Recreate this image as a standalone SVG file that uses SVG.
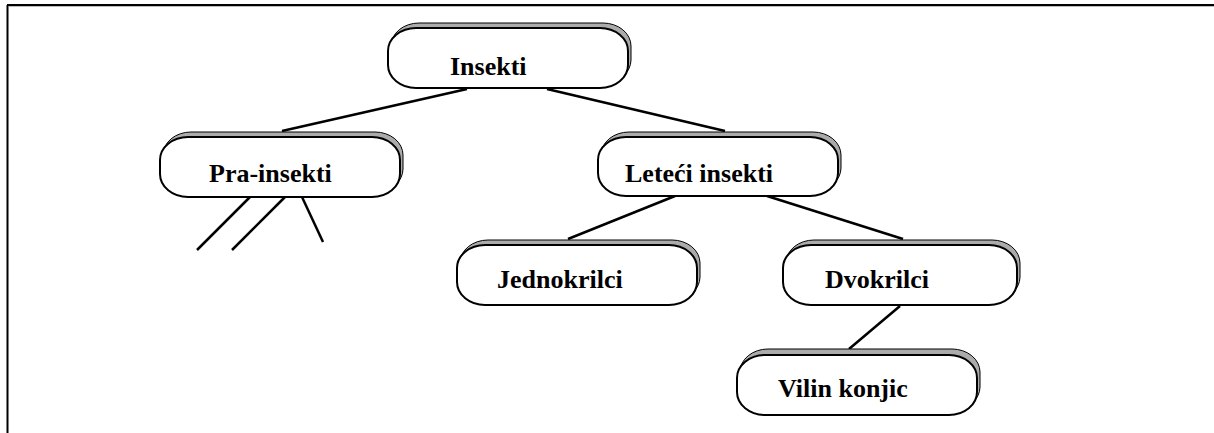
<svg xmlns="http://www.w3.org/2000/svg" width="1214" height="433" viewBox="0 0 1214 433">
<style>
.sh{fill:#ababab;stroke:#000;stroke-width:1}
.bx{fill:#fff;stroke:#000;stroke-width:2}
.t{font-family:"Liberation Serif","Times New Roman",serif;font-weight:bold;font-size:26px;fill:#000}
.c line{stroke:#000;stroke-width:2.5;stroke-linecap:butt}
</style>
<rect width="1214" height="433" fill="#fff"/>
<g id="frame">
<line x1="7.5" y1="433" x2="7.5" y2="5" stroke="#000" stroke-width="2"/>
<line x1="7" y1="5" x2="1214" y2="5" stroke="#000" stroke-width="2"/>
<line x1="9" y1="6.5" x2="1214" y2="6.5" stroke="#bbb" stroke-width="1"/>
</g>
<g class="c" id="connectors">
<line x1="467" y1="89" x2="282" y2="131"/>
<line x1="547" y1="89" x2="725" y2="131"/>
<line x1="675" y1="196" x2="568" y2="239"/>
<line x1="767" y1="196" x2="903" y2="239"/>
<line x1="900" y1="306" x2="849" y2="349"/>
<line x1="250" y1="197" x2="197" y2="250"/>
<line x1="285" y1="197" x2="232" y2="250"/>
<line x1="302" y1="197" x2="323" y2="242"/>
</g>
<g id="n-insekti">
<rect class="sh" x="391" y="23" width="240" height="60" rx="28" ry="23"/>
<rect class="bx" x="388" y="28" width="240" height="60" rx="28" ry="23"/>
<text class="t" x="450" y="75">Insekti</text>
</g>
<g id="n-pra">
<rect class="sh" x="163" y="132" width="240" height="60" rx="28" ry="23"/>
<rect class="bx" x="160" y="137" width="240" height="60" rx="28" ry="23"/>
<text class="t" x="209" y="182">Pra-insekti</text>
</g>
<g id="n-leteci">
<rect class="sh" x="601" y="132" width="240" height="59" rx="28" ry="23"/>
<rect class="bx" x="598" y="137" width="240" height="59" rx="28" ry="23"/>
<text class="t" x="625" y="182">Leteći insekti</text>
</g>
<g id="n-jedno">
<rect class="sh" x="460" y="240" width="240" height="60" rx="28" ry="23"/>
<rect class="bx" x="457" y="245" width="240" height="60" rx="28" ry="23"/>
<text class="t" x="497" y="288">Jednokrilci</text>
</g>
<g id="n-dvo">
<rect class="sh" x="786" y="240" width="234" height="60" rx="28" ry="23"/>
<rect class="bx" x="783" y="245" width="234" height="60" rx="28" ry="23"/>
<text class="t" x="825" y="288">Dvokrilci</text>
</g>
<g id="n-vilin">
<rect class="sh" x="740" y="349" width="240" height="61" rx="28" ry="23"/>
<rect class="bx" x="737" y="355" width="240" height="60" rx="28" ry="23"/>
<text class="t" x="778" y="397">Vilin konjic</text>
</g>
</svg>
